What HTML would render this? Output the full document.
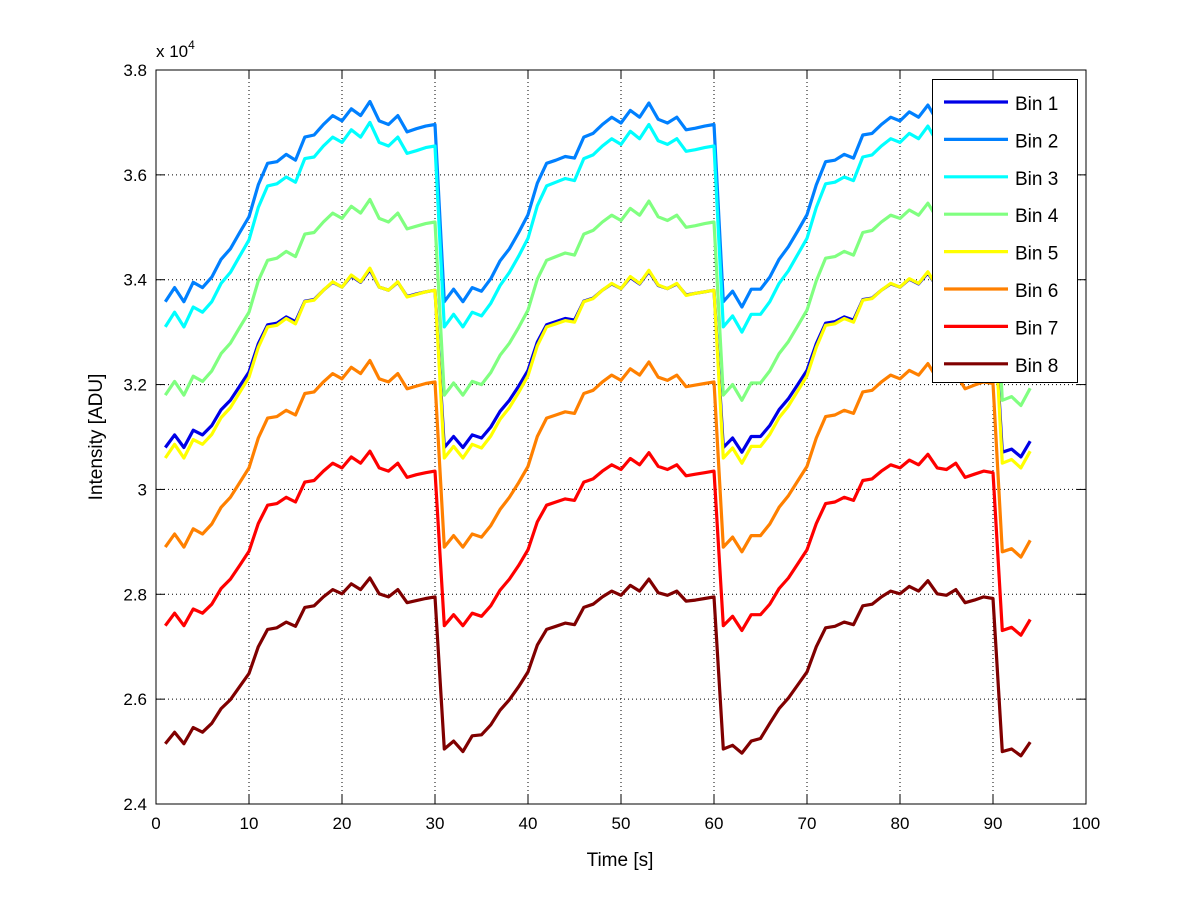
<!DOCTYPE html>
<html><head><meta charset="utf-8"><style>
html,body{margin:0;padding:0;background:#fff;}
svg{display:block;font-family:"Liberation Sans",Arial,sans-serif;}
</style></head><body>
<svg id="chart" width="1200" height="901" viewBox="0 0 1200 901" xmlns="http://www.w3.org/2000/svg">
<rect width="1200" height="901" fill="#fff"/>
<g id="grid"></g>
<g id="series"></g>
<g id="axes"></g>
<g id="legend"></g>
</svg>
<script>
const xTicks=[0,10,20,30,40,50,60,70,80,90,100];
const yTicks=[2.4,2.6,2.8,3,3.2,3.4,3.6,3.8];
const yTickLabels=["2.4","2.6","2.8","3","3.2","3.4","3.6","3.8"];
const seriesNames=["Bin 1","Bin 2","Bin 3","Bin 4","Bin 5","Bin 6","Bin 7","Bin 8"];
const seriesColors=["#0000e6","#0080ff","#00ffff","#80ff80","#ffff00","#ff8000","#ff0000","#800000"];
const bin1=[3.080,3.104,3.080,3.113,3.104,3.122,3.152,3.170,3.197,3.224,3.278,3.314,3.317,3.329,3.320,3.359,3.362,3.380,3.395,3.386,3.407,3.395,3.419,3.386,3.380,3.395,3.368,3.373,3.377,3.380,
3.080,3.101,3.080,3.104,3.098,3.119,3.149,3.170,3.197,3.227,3.281,3.314,3.320,3.326,3.323,3.359,3.365,3.380,3.392,3.383,3.404,3.392,3.416,3.389,3.383,3.392,3.371,3.374,3.377,3.380,
3.080,3.098,3.071,3.101,3.101,3.122,3.152,3.173,3.200,3.227,3.278,3.317,3.320,3.329,3.323,3.362,3.365,3.380,3.392,3.386,3.401,3.392,3.413,3.386,3.383,3.395,3.368,3.374,3.380,3.377,
3.071,3.077,3.062,3.092];
const bin2=[3.358,3.385,3.358,3.395,3.385,3.405,3.439,3.459,3.490,3.520,3.581,3.622,3.625,3.639,3.628,3.672,3.676,3.696,3.713,3.703,3.726,3.713,3.740,3.703,3.696,3.713,3.682,3.688,3.693,3.696,
3.358,3.382,3.358,3.385,3.378,3.402,3.436,3.459,3.490,3.524,3.584,3.622,3.628,3.635,3.632,3.672,3.679,3.696,3.710,3.699,3.723,3.710,3.737,3.706,3.699,3.710,3.686,3.689,3.693,3.696,
3.358,3.378,3.348,3.382,3.382,3.405,3.439,3.463,3.493,3.524,3.581,3.625,3.628,3.639,3.632,3.676,3.679,3.696,3.710,3.703,3.720,3.710,3.733,3.703,3.699,3.713,3.682,3.689,3.696,3.693,
3.348,3.355,3.338,3.372];
const bin3=[3.310,3.338,3.310,3.348,3.338,3.358,3.393,3.414,3.445,3.476,3.538,3.579,3.583,3.596,3.586,3.631,3.634,3.655,3.672,3.662,3.686,3.672,3.700,3.662,3.655,3.672,3.641,3.646,3.652,3.655,
3.310,3.334,3.310,3.338,3.331,3.355,3.389,3.414,3.445,3.479,3.541,3.579,3.586,3.593,3.589,3.631,3.638,3.655,3.669,3.658,3.683,3.669,3.696,3.665,3.658,3.669,3.645,3.648,3.652,3.655,
3.310,3.331,3.300,3.334,3.334,3.358,3.393,3.417,3.448,3.479,3.538,3.583,3.586,3.596,3.589,3.634,3.638,3.655,3.669,3.662,3.679,3.669,3.693,3.662,3.658,3.672,3.641,3.648,3.655,3.652,
3.300,3.307,3.289,3.324];
const bin4=[3.180,3.206,3.180,3.216,3.206,3.226,3.259,3.279,3.309,3.338,3.398,3.437,3.441,3.454,3.444,3.487,3.490,3.510,3.527,3.517,3.540,3.527,3.553,3.517,3.510,3.527,3.497,3.502,3.507,3.510,
3.180,3.203,3.180,3.206,3.200,3.223,3.256,3.279,3.309,3.342,3.401,3.437,3.444,3.451,3.447,3.487,3.494,3.510,3.523,3.513,3.536,3.523,3.550,3.520,3.513,3.523,3.500,3.503,3.507,3.510,
3.180,3.200,3.170,3.203,3.203,3.226,3.259,3.282,3.312,3.342,3.398,3.441,3.444,3.454,3.447,3.490,3.494,3.510,3.523,3.517,3.533,3.523,3.546,3.517,3.513,3.527,3.497,3.503,3.510,3.507,
3.170,3.177,3.160,3.193];
const bin5=[3.060,3.086,3.060,3.095,3.086,3.105,3.137,3.156,3.185,3.214,3.271,3.310,3.313,3.326,3.316,3.358,3.361,3.380,3.396,3.386,3.409,3.396,3.422,3.386,3.380,3.396,3.367,3.372,3.377,3.380,
3.060,3.082,3.060,3.086,3.079,3.102,3.134,3.156,3.185,3.217,3.274,3.310,3.316,3.322,3.319,3.358,3.364,3.380,3.393,3.383,3.406,3.393,3.418,3.390,3.383,3.393,3.370,3.374,3.377,3.380,
3.060,3.079,3.050,3.082,3.082,3.105,3.137,3.159,3.188,3.217,3.271,3.313,3.316,3.326,3.319,3.361,3.364,3.380,3.393,3.386,3.402,3.393,3.415,3.386,3.383,3.396,3.367,3.374,3.380,3.377,
3.050,3.057,3.041,3.073];
const bin6=[2.890,2.915,2.890,2.925,2.915,2.934,2.966,2.985,3.013,3.041,3.098,3.136,3.139,3.151,3.142,3.183,3.186,3.205,3.221,3.211,3.233,3.221,3.246,3.211,3.205,3.221,3.192,3.197,3.202,3.205,
2.890,2.912,2.890,2.915,2.909,2.931,2.962,2.985,3.013,3.044,3.101,3.136,3.142,3.148,3.145,3.183,3.189,3.205,3.218,3.208,3.230,3.218,3.243,3.214,3.208,3.218,3.196,3.199,3.202,3.205,
2.890,2.909,2.881,2.912,2.912,2.934,2.966,2.988,3.016,3.044,3.098,3.139,3.142,3.151,3.145,3.186,3.189,3.205,3.218,3.211,3.227,3.218,3.240,3.211,3.208,3.221,3.192,3.199,3.205,3.202,
2.881,2.887,2.871,2.903];
const bin7=[2.740,2.764,2.740,2.772,2.764,2.781,2.811,2.829,2.855,2.882,2.935,2.970,2.973,2.985,2.976,3.014,3.017,3.035,3.050,3.041,3.062,3.050,3.073,3.041,3.035,3.050,3.023,3.028,3.032,3.035,
2.740,2.761,2.740,2.764,2.758,2.778,2.808,2.829,2.855,2.885,2.938,2.970,2.976,2.982,2.979,3.014,3.020,3.035,3.047,3.038,3.059,3.047,3.070,3.044,3.038,3.047,3.026,3.029,3.032,3.035,
2.740,2.758,2.731,2.761,2.761,2.781,2.811,2.831,2.858,2.885,2.935,2.973,2.976,2.985,2.979,3.017,3.020,3.035,3.047,3.041,3.056,3.047,3.067,3.041,3.038,3.050,3.023,3.029,3.035,3.032,
2.731,2.737,2.722,2.752];
const bin8=[2.515,2.537,2.515,2.546,2.537,2.554,2.582,2.599,2.624,2.649,2.700,2.733,2.736,2.747,2.739,2.775,2.778,2.795,2.809,2.801,2.820,2.809,2.831,2.801,2.795,2.809,2.784,2.788,2.792,2.795,
2.505,2.520,2.500,2.530,2.532,2.551,2.579,2.599,2.624,2.652,2.703,2.733,2.739,2.745,2.742,2.775,2.781,2.795,2.806,2.798,2.817,2.806,2.829,2.803,2.798,2.806,2.787,2.789,2.792,2.795,
2.505,2.512,2.497,2.520,2.525,2.554,2.582,2.602,2.627,2.652,2.700,2.736,2.739,2.747,2.742,2.778,2.781,2.795,2.806,2.801,2.815,2.806,2.826,2.801,2.798,2.809,2.784,2.789,2.795,2.792,
2.500,2.505,2.492,2.518];
const allSeries=[bin1,bin2,bin3,bin4,bin5,bin6,bin7,bin8];

const X0=156,X1=1086,Y0=804,Y1=70,XMIN=0,XMAX=100,YMIN=2.4,YMAX=3.8;
function sx(v){return X0+(v-XMIN)/(XMAX-XMIN)*(X1-X0);}
function sy(v){return Y0-(v-YMIN)/(YMAX-YMIN)*(Y0-Y1);}
const NS="http://www.w3.org/2000/svg";
function mk(tag,attrs,parent,text){const e=document.createElementNS(NS,tag);for(const k in attrs)e.setAttribute(k,attrs[k]);if(text!==undefined)e.textContent=text;parent.appendChild(e);return e;}
const grid=document.getElementById('grid'),axes=document.getElementById('axes'),ser=document.getElementById('series'),leg=document.getElementById('legend');

xTicks.forEach((t,i)=>{
  const x=sx(t);
  if(i>0&&i<xTicks.length-1){const g=mk('line',{x1:x,y1:Y1,x2:x,y2:Y0,stroke:'#000','stroke-width':1,'stroke-dasharray':'1,3'},grid);
  
  }
  const a=mk('line',{x1:x,y1:Y0,x2:x,y2:Y0-9,stroke:'#000'},axes);
  
  
  const b=mk('line',{x1:x,y1:Y1,x2:x,y2:Y1+9,stroke:'#000'},axes);
  
  
  const l=mk('text',{x:x,y:Y0+25,'text-anchor':'middle','font-size':17},axes,String(t));
  
  
});
yTicks.forEach((t,i)=>{
  const y=sy(t);
  if(i>0&&i<yTicks.length-1){const g=mk('line',{x1:X0,y1:y,x2:X1,y2:y,stroke:'#000','stroke-width':1,'stroke-dasharray':'1,3'},grid);
  
  }
  const a=mk('line',{x1:X0,y1:y,x2:X0+9,y2:y,stroke:'#000'},axes);
  
  
  const b=mk('line',{x1:X1,y1:y,x2:X1-9,y2:y,stroke:'#000'},axes);
  
  
  const l=mk('text',{x:X0-9,y:y+6,'text-anchor':'end','font-size':17},axes,yTickLabels[i]);
  
  
});
const box=mk('rect',{x:X0,y:Y1,width:X1-X0,height:Y0-Y1,fill:'none',stroke:'#000','stroke-width':1},axes);


const mult=mk('text',{x:156,y:57,'font-size':17},axes);


mk('tspan',{},mult,'x 10');
mk('tspan',{dy:-8,'font-size':12},mult,'4');
const xt=mk('text',{x:620,y:866,'text-anchor':'middle','font-size':19},axes,'Time [s]');


const yt=mk('text',{x:0,y:0,'text-anchor':'middle','font-size':19,transform:'translate(102,437) rotate(-90)'},axes,'Intensity [ADU]');



allSeries.forEach((arr,si)=>{
  const pts=arr.map((v,i)=>sx(i+1).toFixed(1)+','+sy(v).toFixed(1)).join(' ');
  const p=mk('polyline',{points:pts,fill:'none',stroke:seriesColors[si],'stroke-width':3.2,'stroke-linejoin':'round'},ser);
  
  
});

const lb=mk('rect',{x:932.5,y:79.5,width:145,height:303,fill:'#fff',stroke:'#000'},leg);


seriesNames.forEach((n,i)=>{
  const y=103+i*37.4;
  const g=mk('g',{},leg);
  
  
  mk('line',{x1:944,y1:y-1,x2:1008,y2:y-1,stroke:seriesColors[i],'stroke-width':3.2},g);
  mk('text',{x:1015,y:y+7,'font-size':19},g,n);
});
</script>
</body></html>
